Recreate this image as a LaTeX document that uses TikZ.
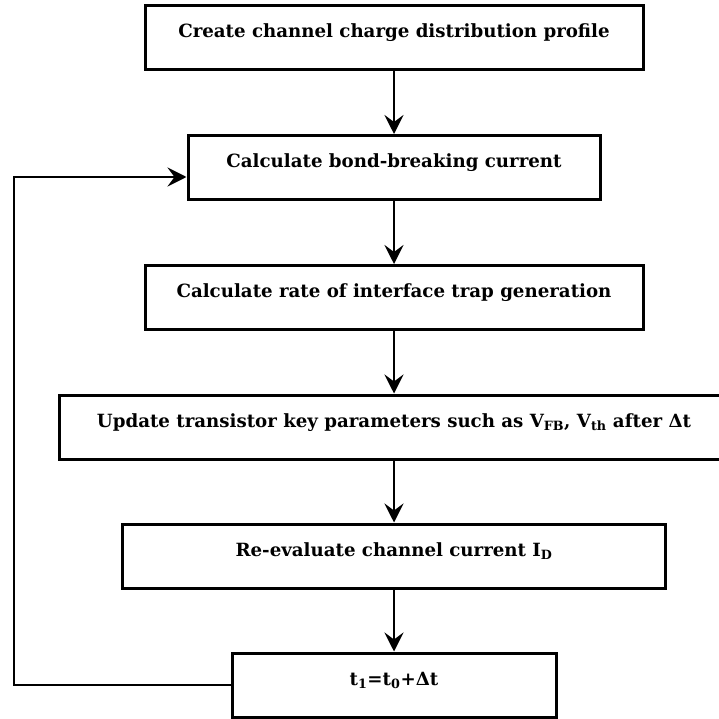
\documentclass[tikz,border=0pt]{standalone}
\usepackage{fontspec}
\setmainfont{DejaVu Serif}
\usetikzlibrary{arrows.meta,calc}

\begin{document}
\begin{tikzpicture}[x=1pt,y=-1pt,
  stepbox/.style={draw=black, line width=3pt, fill=white, rectangle,
    minimum height=64pt, inner sep=0pt, text height=10pt, text depth=10pt,
    font=\fontsize{18.2}{22}\selectfont\bfseries},
  flow/.style={draw=black, line width=2.8pt,
    -{Stealth[length=19pt,width=19pt,inset=7pt]}},
  loop/.style={draw=black, line width=2.8pt, line join=miter,
    -{Stealth[length=19pt,width=19pt,inset=7pt]}}]

  % page frame
  \fill[white] (0,0) rectangle (719,719);
  \useasboundingbox (0,0) rectangle (719,719);

  % process steps
  \node[stepbox, minimum width=498pt] (b1) at (394,37.5)
    {Create channel charge distribution profile};
  \node[stepbox, minimum width=412pt] (b2) at (394,167.5)
    {Calculate bond-breaking current};
  \node[stepbox, minimum width=498pt] (b3) at (394,297.5)
    {Calculate rate of interface trap generation};
  \node[stepbox, minimum width=670pt] (b4) at (394,427)
    {Update transistor key parameters such as V\textsubscript{FB}, V\textsubscript{th} after Δt};
  \node[stepbox, minimum width=543pt] (b5) at (394,556)
    {Re-evaluate channel current I\textsubscript{D}};
  \node[stepbox, minimum width=324pt] (b6) at (394,685)
    {t\textsubscript{1}=t\textsubscript{0}+Δt};

  % forward flow
  \draw[flow] (b1) -- (b2);
  \draw[flow] (b2) -- (b3);
  \draw[flow] (b3) -- (b4);
  \draw[flow] (b4) -- (b5);
  \draw[flow] (b5) -- (b6);

  % feedback loop for the next time step
  \coordinate (looptop) at (14,177);
  \draw[loop] (b6.west) -| (looptop) -- (looptop -| b2.west);
\end{tikzpicture}
\end{document}
